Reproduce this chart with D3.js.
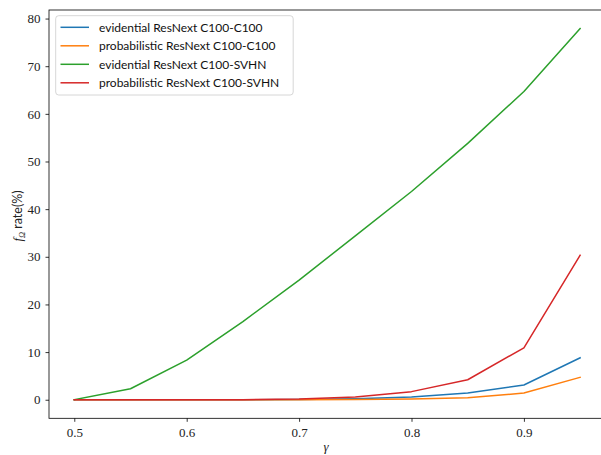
<!DOCTYPE html>
<html><head><meta charset="utf-8">
<script src="https://cdn.jsdelivr.net/npm/d3@7"></script>
<style>body{margin:0;background:#fff}svg{display:block}.tk text{font-family:'Liberation Serif','DejaVu Serif',serif !important}</style>
</head><body>
<script>
const gammas = [0.5, 0.55, 0.6, 0.65, 0.7, 0.75, 0.8, 0.85, 0.9, 0.95];
const evidentialC100 = [0, 0, 0, 0, 0.05, 0.2, 0.6, 1.4, 3.1, 8.8];
const probabilisticC100 = [0, 0, 0, 0, 0, 0.05, 0.15, 0.4, 1.4, 4.7];
const evidentialSVHN = [0, 2.3, 8.3, 16.4, 25.1, 34.4, 43.7, 53.8, 64.7, 77.9];
const probabilisticSVHN = [0, 0, 0, 0.02, 0.15, 0.55, 1.7, 4.2, 10.9, 30.3];
const seriesNames = ["evidential ResNext C100-C100", "probabilistic ResNext C100-C100", "evidential ResNext C100-SVHN", "probabilistic ResNext C100-SVHN"];
const seriesColors = ["#1f77b4", "#ff7f0e", "#2ca02c", "#d62728"];
const xTicks = [0.5, 0.6, 0.7, 0.8, 0.9];
const yTicks = [0, 10, 20, 30, 40, 50, 60, 70, 80];

const W = 601, H = 455;
const svg = d3.select("body").append("svg").attr("width", W).attr("height", H);
const L = 49, R = 605.4, T = 10, B = 418.3;
const allSeries = [evidentialC100, probabilisticC100, evidentialSVHN, probabilisticSVHN];
const ymax = d3.max(allSeries.flat());
const x = d3.scaleLinear().domain([0.4775, 0.9725]).range([L, R]);
const y = d3.scaleLinear().domain([-0.05 * ymax, ymax * 1.05]).range([B, T]);

const serif = "'Liberation Serif', 'DejaVu Serif', serif";
const sans = "Lato, 'DejaVu Sans', sans-serif";

const line = d3.line().x((d, i) => x(gammas[i])).y(d => y(d));
allSeries.forEach((s, k) => {
  svg.append("path").datum(s).attr("d", line)
    .attr("fill", "none").attr("stroke", seriesColors[k]).attr("stroke-width", 1.5)
    .attr("stroke-linejoin", "round").attr("stroke-linecap", "square");
});

// axes
const xAxis = svg.append("g").attr("class", "tk").attr("transform", `translate(0,${B})`)
  .call(d3.axisBottom(x).tickValues(xTicks).tickSize(3.5).tickPadding(6).tickFormat(d3.format(".1f")));
const yAxis = svg.append("g").attr("class", "tk").attr("transform", `translate(${L},0)`)
  .call(d3.axisLeft(y).tickValues(yTicks).tickSize(3.5).tickPadding(5).tickFormat(d3.format("d")));
[xAxis, yAxis].forEach(a => {
  a.attr("font-family", null);
  a.select(".domain").remove();
  a.selectAll("line").attr("stroke", "#000").attr("stroke-width", 0.8);
  a.selectAll("text").style("font-size", "13px").attr("fill", "#222");
});
// spines
svg.append("rect").attr("x", L).attr("y", T).attr("width", R - L).attr("height", B - T)
  .attr("fill", "none").attr("stroke", "#000").attr("stroke-width", 0.8);

// axis labels
svg.append("text").attr("x", 326).attr("y", 451).attr("text-anchor", "middle")
  .style("font-family", serif).attr("font-style", "italic").attr("font-size", 13).attr("fill", "#222").text("γ");
const yl = svg.append("text").attr("transform", `translate(22,216) rotate(-90)`)
  .attr("text-anchor", "middle").attr("font-size", 12.5).attr("fill", "#222");
yl.append("tspan").style("font-family", serif).attr("font-style", "italic").text("f");
yl.append("tspan").style("font-family", serif).attr("font-style", "italic").attr("font-size", 8.5).attr("dy", 3).text("Ω");
yl.append("tspan").style("font-family", sans).attr("dy", -3).text(" rate(%)");

// legend
const lg = svg.append("g");
lg.append("rect").attr("x", 55.7).attr("y", 15.7).attr("width", 237.5).attr("height", 79.3)
  .attr("rx", 3).attr("fill", "#fff").attr("fill-opacity", 0.8).attr("stroke", "#cccccc").attr("stroke-width", 0.8);
seriesNames.forEach((n, k) => {
  const yy = 27.3 + k * 18.5;
  lg.append("line").attr("x1", 60.5).attr("x2", 89).attr("y1", yy).attr("y2", yy)
    .attr("stroke", seriesColors[k]).attr("stroke-width", 1.5);
  lg.append("text").attr("x", 99).attr("y", yy + 4.3).style("font-family", sans).attr("font-size", 12).attr("fill", "#111").text(n);
});
</script>
</body></html>
